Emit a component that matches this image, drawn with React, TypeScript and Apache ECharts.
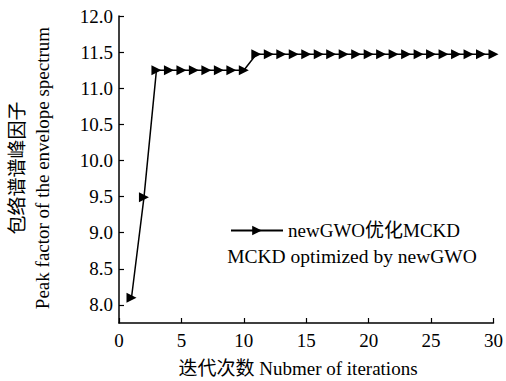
import React, { useEffect, useRef } from "react";
import * as echarts from "echarts";

const iterations = [1, 2, 3, 4, 5, 6, 7, 8, 9, 10, 11, 12, 13, 14, 15, 16, 17, 18, 19, 20, 21, 22, 23, 24, 25, 26, 27, 28, 29, 30];
const peakFactor = [8.1, 9.49, 11.25, 11.25, 11.25, 11.25, 11.25, 11.25, 11.25, 11.25,
  11.47, 11.47, 11.47, 11.47, 11.47, 11.47, 11.47, 11.47, 11.47, 11.47,
  11.47, 11.47, 11.47, 11.47, 11.47, 11.47, 11.47, 11.47, 11.47, 11.47];
const yTicks = [8.0, 8.5, 9.0, 9.5, 10.0, 10.5, 11.0, 11.5, 12.0];
const seriesName = "newGWO优化MCKD";
const seriesName2 = "MCKD optimized by newGWO";
const xTitle = "迭代次数 Nubmer of iterations";
const yTitleCn = "包络谱谱峰因子";
const yTitleEn = "Peak factor of the envelope spectrum";

const FONT = "Liberation Serif";
const FONT_CJK = "Liberation Serif, Noto Sans CJK SC";

export default function App() {
  const ref = useRef<HTMLDivElement>(null);
  useEffect(() => {
    if (!ref.current) return;
    const chart = echarts.init(ref.current, undefined, { renderer: "svg" });
    const txt = (fam: string) => ({ fontFamily: fam, fontSize: 19, fill: "#000" });
    chart.setOption({
      animation: false,
      backgroundColor: "#fff",
      grid: { left: 119, right: 10, top: 16, bottom: 58, containLabel: false },
      legend: {
        data: [seriesName],
        left: 230,
        top: 221,
        padding: 0,
        itemWidth: 52,
        itemHeight: 12,
        itemGap: 4,
        textStyle: { fontFamily: FONT_CJK, fontSize: 19, color: "#000", padding: [0, 0, 0, 0] },
      },
      graphic: [
        { type: "text", x: 352, y: 256, style: { text: seriesName2, ...txt(FONT), fontSize: 19.5, align: "center", verticalAlign: "middle" } },
        { type: "text", x: 298, y: 368, style: { text: xTitle, ...txt(FONT_CJK), align: "center", verticalAlign: "middle" } },
        { type: "text", x: 17, y: 168, rotation: Math.PI / 2, style: { text: yTitleCn, ...txt(FONT_CJK), align: "center", verticalAlign: "middle" } },
        { type: "text", x: 42, y: 168, rotation: Math.PI / 2, style: { text: yTitleEn, ...txt(FONT), align: "center", verticalAlign: "middle" } },
      ],
      xAxis: {
        type: "value",
        min: 0,
        max: 30,
        interval: 5,
        axisLine: { lineStyle: { color: "#000", width: 1.5 } },
        axisTick: { inside: true, length: 5, lineStyle: { color: "#000", width: 1.2 } },
        axisLabel: { color: "#000", fontFamily: FONT, fontSize: 19, margin: 8 },
        splitLine: { show: false },
      },
      yAxis: {
        type: "value",
        min: 7.75,
        max: 12.0,
        axisLine: { show: true, lineStyle: { color: "#000", width: 1.5 } },
        axisTick: { show: true, inside: true, length: 5, customValues: yTicks, lineStyle: { color: "#000", width: 1.2 } },
        axisLabel: {
          color: "#000", fontFamily: FONT, fontSize: 19, margin: 6,
          customValues: yTicks,
          formatter: (v: number) => v.toFixed(1),
        },
        splitLine: { show: false },
      },
      series: [
        {
          name: seriesName,
          type: "line",
          data: iterations.map((x, i) => [x, peakFactor[i]]),
          symbol: "triangle",
          symbolRotate: -90,
          symbolSize: 10,
          itemStyle: { color: "#000" },
          lineStyle: { color: "#000", width: 1.5 },
        },
      ],
    });
    return () => chart.dispose();
  }, []);
  return <div ref={ref} style={{ position: "absolute", left: 0, top: 0, width: 506, height: 381 }} />;
}
